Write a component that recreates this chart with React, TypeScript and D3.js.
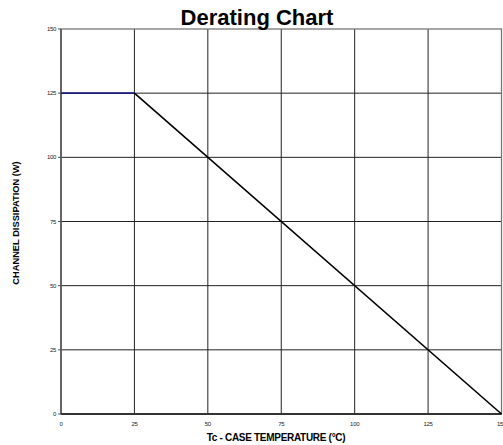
import { useRef, useEffect } from 'react'
import * as d3 from 'd3'

const xTicks = [0, 25, 50, 75, 100, 125, 150]
const yTicks = [0, 25, 50, 75, 100, 125, 150]
const flatPart = [
  { t: 0, p: 125 },
  { t: 25, p: 125 },
]
const deratePart = [
  { t: 25, p: 125 },
  { t: 150, p: 0 },
]

export default function App() {
  const svgRef = useRef<SVGSVGElement>(null)

  useEffect(() => {
    document.body.style.margin = '0'
    if (!svgRef.current) return
    const svg = d3.select(svgRef.current)
    svg.selectAll('*').remove()

    const W = 503
    const H = 445
    const x = d3.scaleLinear().domain([0, 150]).range([61, 501.5])
    const y = d3.scaleLinear().domain([0, 150]).range([414, 29])
    const font = 'Liberation Sans, Arial, sans-serif'

    svg.append('rect').attr('width', W).attr('height', H).attr('fill', '#fff')

    // grid
    svg
      .append('g')
      .selectAll('line')
      .data(xTicks.filter((d) => d > 0 && d < 150))
      .join('line')
      .attr('x1', (d) => x(d))
      .attr('x2', (d) => x(d))
      .attr('y1', y(150))
      .attr('y2', y(0))
      .attr('stroke', '#222')
      .attr('stroke-width', 1)

    svg
      .append('g')
      .selectAll('line')
      .data(yTicks.filter((d) => d > 0 && d < 150))
      .join('line')
      .attr('x1', x(0))
      .attr('x2', x(150))
      .attr('y1', (d) => y(d))
      .attr('y2', (d) => y(d))
      .attr('stroke', '#222')
      .attr('stroke-width', 1)

    // plot border
    svg
      .append('rect')
      .attr('x', x(0))
      .attr('y', y(150))
      .attr('width', x(150) - x(0))
      .attr('height', y(0) - y(150))
      .attr('fill', 'none')
      .attr('stroke', '#777')
      .attr('stroke-width', 1.3)

    // axes lines
    svg.append('line').attr('x1', x(0)).attr('x2', x(0)).attr('y1', y(150)).attr('y2', y(0))
      .attr('stroke', '#555').attr('stroke-width', 1.6)
    svg.append('line').attr('x1', x(0)).attr('x2', x(150)).attr('y1', y(0)).attr('y2', y(0))
      .attr('stroke', '#333').attr('stroke-width', 1.8)

    // tick marks
    svg.append('g').selectAll('line').data(yTicks).join('line')
      .attr('x1', x(0) - 3).attr('x2', x(0))
      .attr('y1', (d) => y(d)).attr('y2', (d) => y(d))
      .attr('stroke', '#555').attr('stroke-width', 1)

    // tick labels
    svg.append('g').selectAll('text').data(yTicks).join('text')
      .attr('x', x(0) - 5)
      .attr('y', (d) => y(d) + 2)
      .attr('text-anchor', 'end')
      .attr('font-family', font)
      .attr('font-size', 6)
      .attr('letter-spacing', -0.3)
      .attr('fill', '#222')
      .text((d) => d)

    svg.append('g').selectAll('text').data(xTicks).join('text')
      .attr('x', (d) => x(d))
      .attr('y', 426)
      .attr('text-anchor', 'middle')
      .attr('font-family', font)
      .attr('font-size', 6)
      .attr('letter-spacing', -0.3)
      .attr('fill', '#222')
      .text((d) => d)

    // data
    const line = d3.line<{ t: number; p: number }>().x((d) => x(d.t)).y((d) => y(d.p))
    svg.append('path').datum(deratePart).attr('d', line).attr('fill', 'none')
      .attr('stroke', '#000').attr('stroke-width', 1.6)
    svg.append('path').datum(flatPart).attr('d', line).attr('fill', 'none')
      .attr('stroke', '#1a1a80').attr('stroke-width', 1.6)

    // titles
    svg.append('text').attr('x', 257).attr('y', 25).attr('text-anchor', 'middle')
      .attr('font-family', font).attr('font-weight', 'bold').attr('font-size', 22)
      .text('Derating Chart')

    svg.append('text').attr('x', 276).attr('y', 441).attr('text-anchor', 'middle')
      .attr('font-family', font).attr('font-weight', 'bold').attr('font-size', 10)
      .attr('letter-spacing', -0.3)
      .text('Tc - CASE TEMPERATURE (°C)')

    svg.append('text')
      .attr('transform', `translate(19,223) rotate(-90)`)
      .attr('text-anchor', 'middle')
      .attr('font-family', font).attr('font-weight', 'bold').attr('font-size', 9.3)
      .text('CHANNEL DISSIPATION (W)')
  }, [])

  return <svg ref={svgRef} width={503} height={445} style={{ display: 'block' }} />
}
